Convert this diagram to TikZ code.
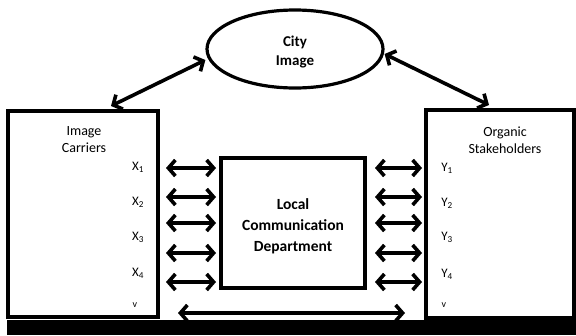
\documentclass[tikz,border=0pt]{standalone}
\usepackage{fontspec}
\setmainfont{Carlito}
\usetikzlibrary{arrows.meta,shapes.geometric}
\begin{document}
\begin{tikzpicture}[x=1pt,y=-1pt,
  box/.style={draw,line width=3.8pt,inner sep=0pt},
  dbl/.style={line width=3.6pt,{Straight Barb[length=7pt,width=16pt]}-{Straight Barb[length=7pt,width=16pt]}},
  lab/.style={font=\fontsize{13}{15}\selectfont,inner sep=0pt},
  cut/.style={font=\fontsize{10}{10}\selectfont,inner sep=0pt}]
\useasboundingbox (0,0) rectangle (576,335);
% boxes
\node[box,minimum width=150pt,minimum height=206pt] (L) at (83,214) {};
\node[box,minimum width=148pt,minimum height=208pt] (R) at (500,214) {};
\node[box,minimum width=144pt,minimum height=130pt] (C) at (293,223) {};
\node[draw,ellipse,line width=3.2pt,minimum width=176pt,minimum height=78pt,inner sep=0pt] (E) at (295,49) {};
% texts
\node[align=center,font=\bfseries\fontsize{15.5}{21}\selectfont] (ct) at (293,226) {Local\\Communication\\Department};
\node[align=center,font=\bfseries\fontsize{15}{19}\selectfont] (et) at (295,52) {City\\Image};
\node[align=center,font=\fontsize{14}{17}\selectfont] (lt) at (84,140) {Image\\Carriers};
\node[align=center,font=\fontsize{14}{17}\selectfont] (rt) at (505,140) {Organic\\Stakeholders};
% labels
\node[lab] (x1) at (138,167) {X\textsubscript{1}};
\node[lab] (x2) at (138,202) {X\textsubscript{2}};
\node[lab] (x3) at (138,237) {X\textsubscript{3}};
\node[lab] (x4) at (138,273) {X\textsubscript{4}};
\node[cut] (x5) at (135,305) {v};
\node[lab] (y1) at (447,168) {Y\textsubscript{1}};
\node[lab] (y2) at (447,203) {Y\textsubscript{2}};
\node[lab] (y3) at (447,237) {Y\textsubscript{3}};
\node[lab] (y4) at (447,274) {Y\textsubscript{4}};
\node[cut] (y5) at (444,305) {v};
% anchor coordinates for arrows
\coordinate (la1) at (166,168); \coordinate (lb1) at (216,168);
\coordinate (la2) at (166,197); \coordinate (lb2) at (216,197);
\coordinate (la3) at (166,223); \coordinate (lb3) at (216,223);
\coordinate (la4) at (166,253); \coordinate (lb4) at (216,253);
\coordinate (la5) at (166,282); \coordinate (lb5) at (216,282);
\coordinate (ra1) at (375,168); \coordinate (rb1) at (422,168);
\coordinate (ra2) at (375,197); \coordinate (rb2) at (422,197);
\coordinate (ra3) at (375,223); \coordinate (rb3) at (422,223);
\coordinate (ra4) at (375,253); \coordinate (rb4) at (422,253);
\coordinate (ra5) at (375,282); \coordinate (rb5) at (422,282);
\foreach \i in {1,...,5}{
  \draw[dbl] (la\i) -- (lb\i);
  \draw[dbl] (ra\i) -- (rb\i);
}
\coordinate (ba) at (178,313); \coordinate (bb) at (405,313);
\draw[dbl] (ba) -- (bb);
% diagonal arrows
\coordinate (dl) at (111,106);
\coordinate (dr) at (489,105);
\draw[dbl] (dl) -- (E.west |- 0,60) ;
\draw[dbl] (E.east |- 0,54) -- (dr);
% black band
\fill[black] (7,320) rectangle (576,335);
\end{tikzpicture}
\end{document}
